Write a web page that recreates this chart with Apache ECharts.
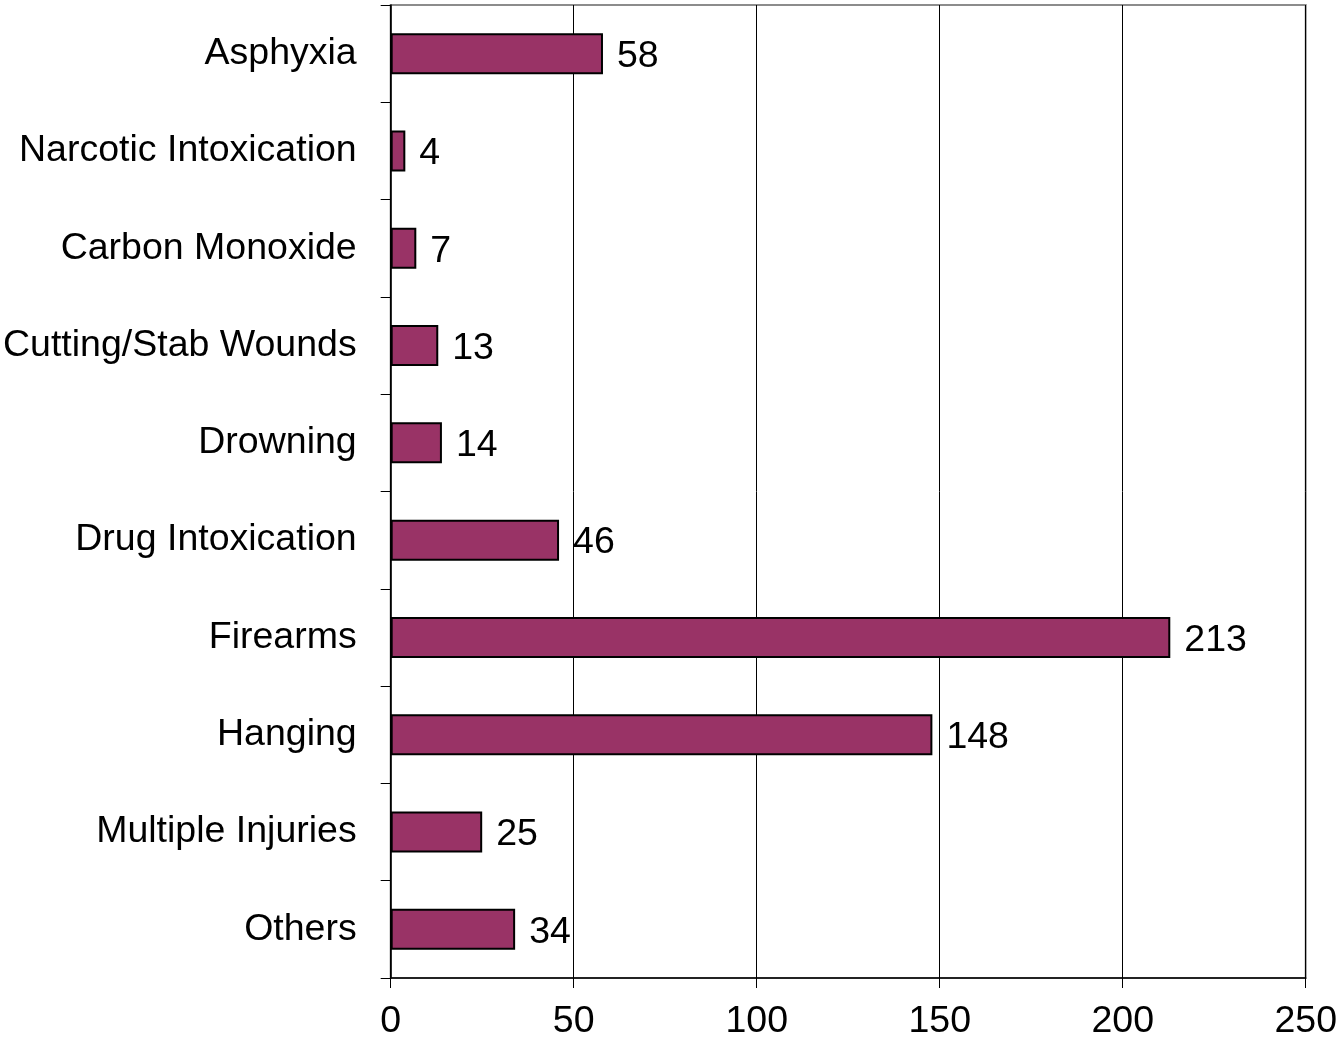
<!DOCTYPE html>
<html>
<head>
<meta charset="utf-8">
<title>Causes</title>
<script src="https://cdn.jsdelivr.net/npm/echarts@6/dist/echarts.min.js"></script>
<style>
html, body { margin: 0; padding: 0; background: #fff; }
</style>
</head>
<body>
<div id="main" style="width:1340px;height:1050px;"></div>
<script type="text/javascript">
// categories top to bottom
var causes = ['Asphyxia', 'Narcotic Intoxication', 'Carbon Monoxide', 'Cutting/Stab Wounds',
  'Drowning', 'Drug Intoxication', 'Firearms', 'Hanging', 'Multiple Injuries', 'Others'];
var counts = [58, 4, 7, 13, 14, 46, 213, 148, 25, 34];
var xTicks = [0, 50, 100, 150, 200, 250];

var myChart = echarts.init(document.getElementById('main'));
var fontFam = 'Liberation Sans, Arial, sans-serif';

var option = {
  animation: false,
  backgroundColor: '#fff',
  grid: {
    left: 390, top: 5, right: 29, bottom: 72,
    show: true, borderColor: '#8c8c8c', borderWidth: 2
  },
  xAxis: {
    type: 'value',
    min: xTicks[0],
    max: xTicks[xTicks.length - 1],
    interval: 50,
    axisLine: { show: true, lineStyle: { color: '#000', width: 1.5 } },
    axisTick: { show: true, length: 10, lineStyle: { color: '#000' } },
    axisLabel: { color: '#000', fontSize: 37.5, fontFamily: fontFam, margin: 25 },
    splitLine: { show: true, lineStyle: { color: '#000', width: 1 } }
  },
  yAxis: {
    type: 'category',
    inverse: true,
    data: causes,
    axisLine: { show: true, lineStyle: { color: '#000', width: 1.5 } },
    axisTick: { show: true, length: 10, lineStyle: { color: '#000' } },
    axisLabel: { color: '#000', fontSize: 37.5, fontFamily: fontFam, margin: 34, padding: [4, 0, 0, 0] },
    splitLine: { show: false }
  },
  series: [{
    type: 'bar',
    data: counts,
    barWidth: 41,
    itemStyle: { color: '#993366', borderColor: '#000', borderWidth: 2 },
    label: {
      show: true,
      position: 'right',
      distance: 14,
      offset: [0, 3],
      color: '#000',
      fontSize: 37.5,
      fontFamily: fontFam
    }
  }]
};

myChart.setOption(option);
</script>
</body>
</html>
